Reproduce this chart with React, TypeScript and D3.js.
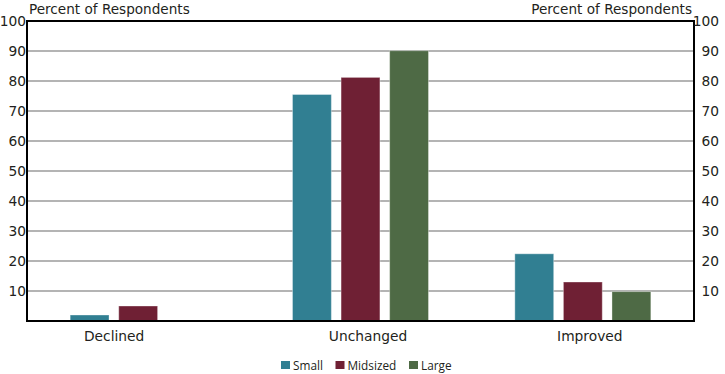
import React from "react";
import * as d3 from "d3";

const categories = ["Declined", "Unchanged", "Improved"];
const seriesNames = ["Small", "Midsized", "Large"];
const small = [2, 75.5, 22.4];
const midsized = [5, 81.2, 13];
const large = [null, 90.1, 9.8];
const yTicks = [10, 20, 30, 40, 50, 60, 70, 80, 90, 100];
const colors = ["#317f92", "#6f2034", "#4e6a45"];
const axisTitle = "Percent of Respondents";

const W = 725;
const H = 374;
const FONT = "'DejaVu Sans', Verdana, sans-serif";
const LFONT = "'Open Sans', 'Noto Sans', sans-serif";

export default function App() {
  const left = 27;
  const right = 694;
  const top = 21;
  const bottom = 321;
  const series = [small, midsized, large];

  const x = d3.scaleBand<string>().domain(categories).range([left, right]).padding(0);
  const groupW = 136;
  const xi = d3.scaleBand<string>().domain(seriesNames).range([0, groupW]).paddingInner(0.2).paddingOuter(0);
  const y = d3.scaleLinear().domain([0, 100]).range([bottom, top]);

  const legendX = [281, 335.5, 409];
  const labelShift = [-24, 7.5, 7];

  return (
    <svg width={W} height={H} style={{ position: "absolute", left: 0, top: 0, background: "#fff" }}>
      {yTicks.filter((t) => t < 100).map((t) => (
        <line key={"g" + t} x1={left} x2={right} y1={y(t)} y2={y(t)} stroke="#9b9b9b" strokeWidth={1.4} />
      ))}
      {categories.map((c, ci) =>
        series.map((s, si) => {
          const v = s[ci];
          if (v == null) return null;
          const bx = (x(c) as number) + (x.bandwidth() - groupW) / 2 + (xi(seriesNames[si]) as number);
          return (
            <rect
              key={c + si}
              x={bx}
              y={y(v)}
              width={xi.bandwidth()}
              height={bottom - y(v)}
              fill={colors[si]}
              stroke="rgba(255,255,255,0.35)"
              strokeWidth={1}
            />
          );
        })
      )}
      <rect x={left} y={top} width={right - left} height={bottom - top} fill="none" stroke="#000" strokeWidth={2} />
      {yTicks.map((t) => (
        <g key={"t" + t}>
          <text x={26} y={y(t)} dy="0.36em" textAnchor="end" fontFamily={FONT} fontSize={13.8} fill="#231f20">
            {t}
          </text>
          <text x={719} y={y(t)} dy="0.36em" textAnchor="end" fontFamily={FONT} fontSize={13.8} fill="#231f20">
            {t}
          </text>
        </g>
      ))}
      <text x={29} y={14} fontFamily={FONT} fontSize={13.6} fill="#231f20">{axisTitle}</text>
      <text x={692} y={14} textAnchor="end" fontFamily={FONT} fontSize={13.6} fill="#231f20">{axisTitle}</text>
      {categories.map((c, i) => (
        <text key={"c" + c} x={(x(c) as number) + x.bandwidth() / 2 + labelShift[i]} y={341} textAnchor="middle" fontFamily={FONT} fontSize={13.8} fill="#231f20">
          {c}
        </text>
      ))}
      {seriesNames.map((n, i) => (
        <g key={"l" + n}>
          <rect x={legendX[i]} y={361} width={9} height={8} fill={colors[i]} />
          <text x={legendX[i] + 12} y={369.5} fontFamily={LFONT} fontSize={11.8} fill="#231f20">
            {n}
          </text>
        </g>
      ))}
    </svg>
  );
}
